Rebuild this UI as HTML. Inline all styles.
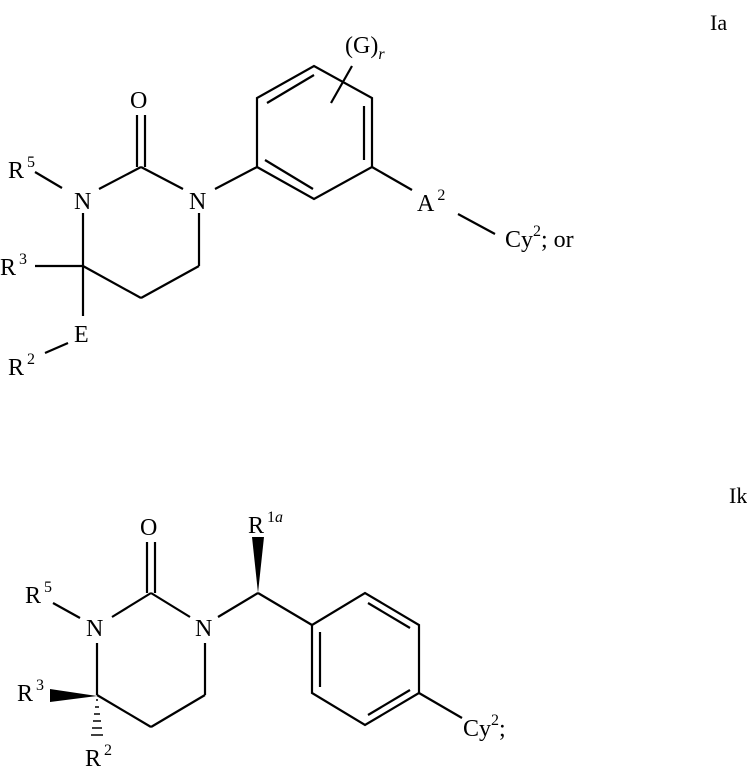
<!DOCTYPE html>
<html><head><style>body{margin:0;background:#fff}</style></head><body>
<svg width="747" height="770" xmlns="http://www.w3.org/2000/svg" font-family="Liberation Serif, serif" font-size="24" fill="#000">
<g stroke="#000" stroke-width="2.2" fill="none">
<line x1="137" y1="115" x2="137" y2="167"/><line x1="145" y1="115" x2="145" y2="167"/>
<line x1="35" y1="172" x2="62" y2="188"/>
<line x1="99" y1="189" x2="141" y2="167"/><line x1="141" y1="167" x2="183" y2="189"/>
<line x1="83" y1="213" x2="83" y2="266"/>
<line x1="35" y1="266" x2="83" y2="266"/>
<line x1="83" y1="266" x2="141" y2="298"/><line x1="141" y1="298" x2="199" y2="266"/><line x1="199" y1="266" x2="199" y2="213"/>
<line x1="83" y1="266" x2="83" y2="316"/>
<line x1="45" y1="353" x2="68" y2="343"/>
<line x1="215" y1="189" x2="257" y2="167"/>
<polygon points="257,167 314,199 372,167 372,98 314,66 257,98"/>
<line x1="267" y1="103" x2="314" y2="75"/><line x1="364" y1="106" x2="364" y2="160"/><line x1="265" y1="160" x2="313" y2="189"/>
<line x1="331" y1="103" x2="352" y2="66"/>
<line x1="372" y1="167" x2="412" y2="190"/>
<line x1="458" y1="214" x2="495" y2="234"/>
<line x1="147" y1="542" x2="147" y2="593"/><line x1="155" y1="542" x2="155" y2="593"/>
<line x1="53" y1="603" x2="80" y2="618"/>
<line x1="112" y1="617" x2="151" y2="593"/><line x1="151" y1="593" x2="190" y2="617"/>
<line x1="97" y1="643" x2="97" y2="695"/>
<line x1="97" y1="695" x2="151" y2="727"/><line x1="151" y1="727" x2="205" y2="695"/><line x1="205" y1="695" x2="205" y2="643"/>
<line x1="218" y1="617" x2="258" y2="593"/>
<line x1="258" y1="593" x2="312" y2="625"/>
<polygon points="312,625 312,693 365,725 419,693 419,625 365,593"/>
<line x1="320" y1="632" x2="320" y2="687"/><line x1="368" y1="603" x2="410" y2="628"/><line x1="368" y1="715" x2="410" y2="690"/>
<line x1="419" y1="693" x2="462" y2="718"/>
<line x1="96" y1="700" x2="98" y2="700" stroke-width="1.5"/>
<line x1="95" y1="707" x2="99" y2="707" stroke-width="1.5"/>
<line x1="94" y1="714" x2="100" y2="714" stroke-width="1.5"/>
<line x1="93" y1="721" x2="101" y2="721" stroke-width="1.5"/>
<line x1="92" y1="728" x2="102" y2="728" stroke-width="1.5"/>
<line x1="91" y1="735" x2="103" y2="735" stroke-width="1.5"/>
</g>
<polygon points="50,689 50,702 97,696"/>
<polygon points="252,537 264,537 258,593"/>
<g>
<text x="710" y="30" font-size="22">Ia</text>
<text x="130" y="108">O</text>
<text x="8" y="178">R<tspan font-size="16" dy="-11" dx="3">5</tspan></text>
<text x="74" y="209">N</text>
<text x="189" y="209">N</text>
<text x="0" y="275">R<tspan font-size="16" dy="-11" dx="3">3</tspan></text>
<text x="74" y="342">E</text>
<text x="8" y="375">R<tspan font-size="16" dy="-11" dx="3">2</tspan></text>
<text x="345" y="53">(G)<tspan font-size="16" dy="6" font-style="italic">r</tspan></text>
<text x="417" y="211">A<tspan font-size="16" dy="-11" dx="3">2</tspan></text>
<text x="505" y="247">Cy<tspan font-size="16" dy="-11">2</tspan><tspan dy="11">;  or</tspan></text>
<text x="729" y="503" font-size="22">Ik</text>
<text x="140" y="535">O</text>
<text x="25" y="603">R<tspan font-size="16" dy="-11" dx="3">5</tspan></text>
<text x="86" y="636">N</text>
<text x="195" y="636">N</text>
<text x="17" y="701">R<tspan font-size="16" dy="-11" dx="3">3</tspan></text>
<text x="85" y="766">R<tspan font-size="16" dy="-11" dx="3">2</tspan></text>
<text x="248" y="533">R<tspan font-size="16" dy="-11" dx="3">1<tspan font-style="italic">a</tspan></tspan></text>
<text x="463" y="736">Cy<tspan font-size="16" dy="-11">2</tspan><tspan dy="11">;</tspan></text>
</g>
</svg>
</body></html>
